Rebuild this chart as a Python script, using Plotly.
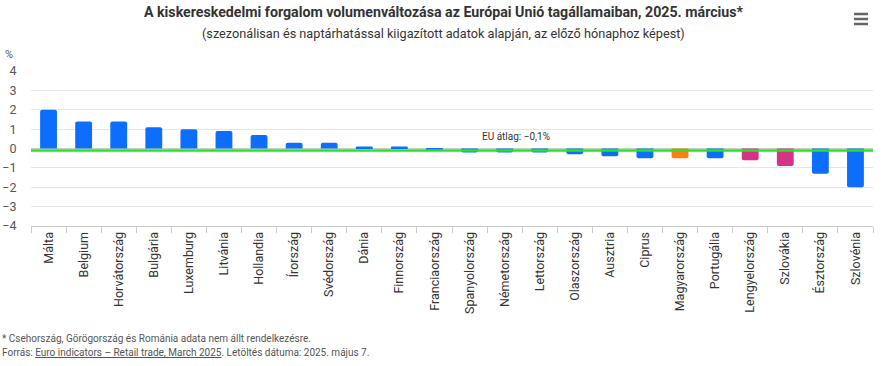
import plotly.graph_objects as go

countries = ["Málta", "Belgium", "Horvátország", "Bulgária", "Luxemburg", "Litvánia",
             "Hollandia", "Írország", "Svédország", "Dánia", "Finnország", "Franciaország",
             "Spanyolország", "Németország", "Lettország", "Olaszország", "Ausztria",
             "Ciprus", "Magyarország", "Portugália", "Lengyelország", "Szlovákia",
             "Észtország", "Szlovénia"]
values = [2.0, 1.4, 1.4, 1.1, 1.0, 0.9, 0.7, 0.3, 0.3, 0.1, 0.1, -0.05,
          -0.2, -0.2, -0.2, -0.3, -0.4, -0.5, -0.5, -0.5, -0.6, -0.9, -1.3, -2.0]
highlight = {"Magyarország": "#fd7e14", "Lengyelország": "#d63384", "Szlovákia": "#d63384"}
eu_avg = -0.1
y_ticks = [4, 3, 2, 1, 0, -1, -2, -3, -4]

colors = [highlight.get(c, "#0d6efd") for c in countries]

fig = go.Figure(go.Bar(
    x=countries, y=values, marker=dict(color=colors, line=dict(width=0), cornerradius=2),
    width=0.48, hoverinfo="x+y"))

fig.add_shape(type="line", xref="paper", x0=0, x1=1, yref="y", y0=eu_avg, y1=eu_avg,
              line=dict(color="#22e622", width=2.5), layer="above")
fig.add_annotation(text="EU átlag: −0,1%", xref="paper", x=0.576, yref="y", y=0.62,
                   showarrow=False, font=dict(family="Roboto", size=10, color="#333333"),
                   xanchor="center", yanchor="middle")

font = "Roboto"
fig.update_layout(
    width=887, height=366,
    margin=dict(l=31, r=14, t=71, b=140),
    paper_bgcolor="white", plot_bgcolor="white",
    showlegend=False,
    title=dict(text="<b>A kiskereskedelmi forgalom volumenváltozása az Európai Unió tagállamaiban, 2025. március*</b>",
               x=0.5, xanchor="center", y=1 - 12 / 366, yanchor="middle",
               font=dict(family=font, size=14.2, color="#333333")),
    bargap=0.52,
)
fig.add_annotation(text="(szezonálisan és naptárhatással kiigazított adatok alapján, az előző hónaphoz képest)",
                   xref="paper", yref="paper", x=(443 - 31) / 842, y=1.0, yanchor="middle", xanchor="center",
                   yshift=71 - 33, showarrow=False,
                   font=dict(family=font, size=12.7, color="#333333"))
fig.add_annotation(text="%", xref="paper", yref="paper", x=0, xshift=-28, xanchor="left",
                   y=1, yshift=17, yanchor="middle", showarrow=False,
                   font=dict(family=font, size=11, color="#555555"))
fig.add_annotation(text="* Csehország, Görögország és Románia adata nem állt rendelkezésre.",
                   xref="paper", yref="paper", x=0, xshift=-31, xanchor="left",
                   y=0, yshift=-(338 - 226), yanchor="middle", showarrow=False,
                   font=dict(family=font, size=10, color="#555555"))
fig.add_annotation(text="Forrás: <u>Euro indicators – Retail trade, March 2025</u>. Letöltés dátuma: 2025. május 7.",
                   xref="paper", yref="paper", x=0, xshift=-31, xanchor="left",
                   y=0, yshift=-(352 - 226), yanchor="middle", showarrow=False,
                   font=dict(family=font, size=10, color="#555555"))

# hamburger menu icon
for yy in [14, 19, 24]:
    fig.add_shape(type="line", xref="paper", yref="paper",
                  x0=(854 - 31) / 842, x1=(868 - 31) / 842,
                  y0=1 + (71 - yy) / 155, y1=1 + (71 - yy) / 155,
                  line=dict(color="#666666", width=2.5))

fig.update_xaxes(
    type="category", tickangle=-90, tickfont=dict(family=font, size=12.5, color="#333333"),
    showline=True, linecolor="#cccccc", linewidth=1, ticks="outside", tickson="boundaries",
    ticklen=6, tickcolor="#cccccc", showgrid=False, fixedrange=True, automargin=False,
)
fig.update_yaxes(
    range=[-4, 4], tickvals=y_ticks, tickfont=dict(family=font, size=12.5, color="#555555"),
    showgrid=True, gridcolor="#e6e6e6", gridwidth=1, zeroline=True, zerolinecolor="#cccccc",
    zerolinewidth=1, ticks="outside", ticklen=11, tickcolor="rgba(0,0,0,0)", automargin=False,
)

fig.write_html("out.html", config={"displayModeBar": False},
               post_script="document.body.style.margin='0';document.body.style.padding='0';")
